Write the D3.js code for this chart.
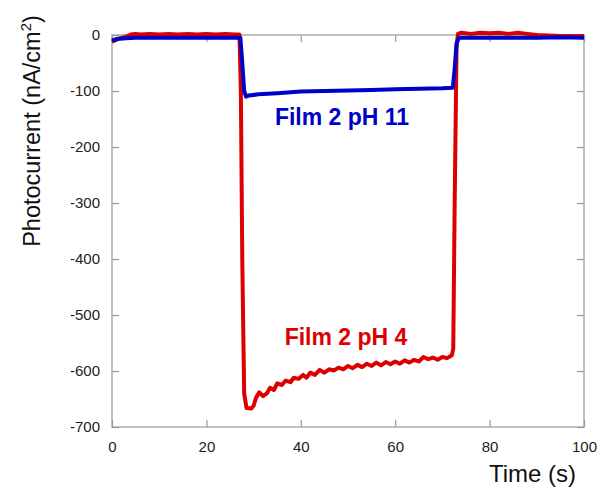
<!DOCTYPE html>
<html><head><meta charset="utf-8">
<script src="https://cdn.jsdelivr.net/npm/d3@7"></script>
<style>body{margin:0;background:#fff;} svg{display:block;}</style>
</head><body>
<svg id="c" width="600" height="490"></svg>
<script>
const xTicks = [0, 20, 40, 60, 80, 100];
const yTicks = [0, -100, -200, -300, -400, -500, -600, -700];

const redTime = [0,0.5,1.5,3,4,5,6,8,10,12,14,16,18,20,22,24,26,27,27.3,27.6,28.0,28.5,29.5,30,30.5,31.2,32,32.8,33.5,34.3,35,36,36.8,37.8,38.5,39.5,40.5,41.2,42,43,44,45,46,47,48,49,50,51,52,53,54,55,56,57,58,59,60,61,62,63,64,65,66,67,68,69,70,71,72,72.3,72.6,73,73.3,74,76,78,80,82,84,86,88,90,95,100];
const redValue = [-12,-10,-6,-3,1,2,1,2,1,2,1,2,1,2,1,2,1,1,-100,-400,-640,-666,-667,-662,-648,-638,-645,-640,-630,-634,-622,-625,-617,-620,-612,-614,-607,-612,-603,-607,-598,-603,-597,-599,-594,-597,-591,-595,-589,-593,-587,-591,-585,-590,-584,-588,-583,-587,-581,-585,-580,-583,-575,-579,-576,-580,-575,-577,-572,-560,-300,-20,2,4,2,4,3,4,2,4,2,0,-2,-2];

const blueTime = [0,1,3,5,10,15,20,25,27.2,27.6,28.0,28.4,29,31,35,40,45,50,55,60,65,70,72.2,72.6,73,73.5,80,90,95,100];
const blueValue = [-10,-7,-6,-5,-5,-5,-5,-5,-5,-50,-100,-110,-108,-106,-104,-101,-100,-99,-98,-97,-96,-95,-94,-60,-15,-5,-5,-5,-4,-5];

const series = [
  {name: "Film 2 pH 4", time: redTime, value: redValue, color: "#dd0000"},
  {name: "Film 2 pH 11", time: blueTime, value: blueValue, color: "#0000c8"}
];

const svg = d3.select("#c");
const L = 112, R = 584, T = 35, B = 427;
const x = d3.scaleLinear().domain([0, 100]).range([L, R]);
const y = d3.scaleLinear().domain([-700, 0]).range([B, T]);
const frame = "#9a9a9a";
const font = "'Liberation Sans', Arial, sans-serif";

svg.append("rect").attr("x", L).attr("y", T).attr("width", R - L).attr("height", B - T)
  .attr("fill", "none").attr("stroke", frame).attr("stroke-width", 1.2);

const styleAxis = g => {
  g.select(".domain").remove();
  g.selectAll(".tick line").attr("stroke", frame).attr("stroke-width", 1.2);
  g.selectAll(".tick text").attr("fill", "#222").style("font-family", font).style("font-size", "15px");
};
svg.append("g").attr("transform", `translate(0,${B})`)
  .call(d3.axisBottom(x).tickValues(xTicks).tickSizeInner(-7).tickSizeOuter(0).tickPadding(14).tickFormat(d => String(d)))
  .call(styleAxis);
svg.append("g").attr("transform", `translate(0,${T})`)
  .call(d3.axisTop(x).tickValues(xTicks).tickSizeInner(-7).tickSizeOuter(0).tickFormat(""))
  .call(styleAxis);
svg.append("g").attr("transform", `translate(${L},0)`)
  .call(d3.axisLeft(y).tickValues(yTicks).tickSizeInner(-7).tickSizeOuter(0).tickPadding(12).tickFormat(d => String(d)))
  .call(styleAxis);
svg.append("g").attr("transform", `translate(${R},0)`)
  .call(d3.axisRight(y).tickValues(yTicks).tickSizeInner(-7).tickSizeOuter(0).tickFormat(""))
  .call(styleAxis);

const line = d3.line().x(d => x(d[0])).y(d => y(d[1]));
series.forEach(s => {
  const pts = s.time.map((t, i) => [t, s.value[i]]);
  svg.append("path").datum(pts).attr("d", line)
    .attr("fill", "none").attr("stroke", s.color).attr("stroke-width", 4)
    .attr("stroke-linejoin", "round");
});

svg.append("text").attr("x", 342).attr("y", 125).attr("text-anchor", "middle")
  .style("font-family", font).style("font-size", "23px").style("font-weight", "bold")
  .attr("fill", series[1].color).text(series[1].name);
svg.append("text").attr("x", 346).attr("y", 345).attr("text-anchor", "middle")
  .style("font-family", font).style("font-size", "23px").style("font-weight", "bold")
  .attr("fill", series[0].color).text(series[0].name);

svg.append("text").attr("x", 576).attr("y", 482).attr("text-anchor", "end")
  .style("font-family", font).style("font-size", "24px").attr("fill", "#111").text("Time (s)");
const yt = svg.append("text").attr("transform", "translate(40,131) rotate(-90)").attr("text-anchor", "middle")
  .style("font-family", font).style("font-size", "23.5px").attr("fill", "#111");
yt.append("tspan").text("Photocurrent (nA/cm");
yt.append("tspan").attr("dy", -9).style("font-size", "15px").text("2");
yt.append("tspan").attr("dy", 9).text(")");
</script>
</body></html>
